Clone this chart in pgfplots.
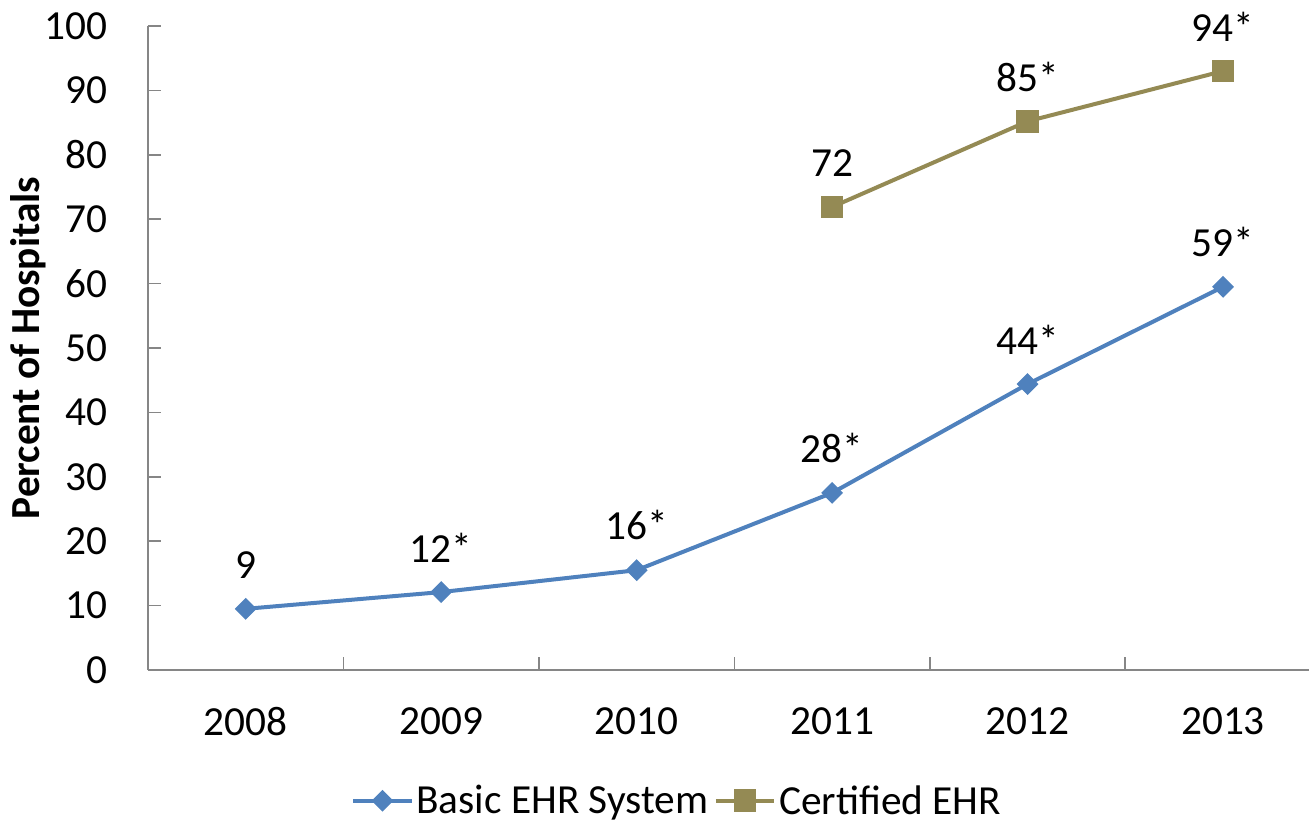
\documentclass[border=0pt]{standalone}
\usepackage{pgfplots}
\pgfplotsset{compat=1.18}
\usepackage{fontspec}
\setmainfont{Carlito}
\definecolor{basic}{HTML}{4F81BD}
\definecolor{cert}{HTML}{948A54}
\definecolor{axgray}{HTML}{868686}
\begin{document}
\begin{tikzpicture}
\begin{axis}[
  at={(111pt,117pt)}, anchor=south west,
  scale only axis, width=870.75pt, height=483pt,
  xmin=0.5, xmax=6.44, ymin=0, ymax=100,
  axis lines*=left,
  axis line style={axgray, line width=1.2pt},
  every tick/.style={axgray, line width=1.2pt},
  tick align=inside,
  major tick length=10pt, minor tick length=10pt,
  xtick={1,...,6},
  xticklabels={2008,2009,2010,2011,2012,2013},
  major x tick style={draw=none},
  minor xtick={1.5,2.5,3.5,4.5,5.5},
  ytick={0,10,...,100},
  /pgf/number format/assume math mode=true,
  tick label style={font=\fontsize{31}{37}\selectfont, inner sep=0pt, text=black},
  yticklabel style={xshift=-30pt},
  xticklabel style={yshift=-28pt},
  ylabel={\textbf{Percent of Hospitals}},
  ylabel style={font=\fontsize{31}{37}\selectfont, at={(rel axis cs:-0.103,0.5)}, anchor=center, rotate=0},
  legend style={at={(rel axis cs:0.456,-0.203)}, anchor=center, draw=none, fill=none,
     legend columns=2, font=\fontsize{31}{37}\selectfont,
     /tikz/every even column/.append style={column sep=2pt},
     inner sep=0pt},
  legend image code/.code={\draw[mark repeat=2,mark phase=2] plot coordinates {(0pt,0pt) (22pt,0pt) (44pt,0pt)};},
  clip=false,
  nodes near coords,
  point meta=explicit symbolic,
  nodes near coords style={font=\fontsize{31}{37}\selectfont, anchor=south, inner sep=0pt, yshift=22pt, text=black},
]
\addplot[basic, line width=3pt, mark=square*, mark size=5.3pt, mark options={rotate=45, basic, line width=1pt}]
  coordinates {(1,9.5) [9] (2,12.1) [12*] (3,15.5) [16*] (4,27.5) [28*] (5,44.4) [44*] (6,59.5) [59*]};
\addlegendentry{Basic EHR System}
\addplot[cert, line width=3pt, mark=square*, mark size=8pt, mark options={cert, line width=1pt}]
  coordinates {(4,71.9) [72] (5,85.2) [85*] (6,93.0) [94*]};
\addlegendentry{Certified EHR}
\end{axis}
\pgfresetboundingbox
\path (0pt,0pt) rectangle (981.75pt,619.5pt);
\end{tikzpicture}
\end{document}
